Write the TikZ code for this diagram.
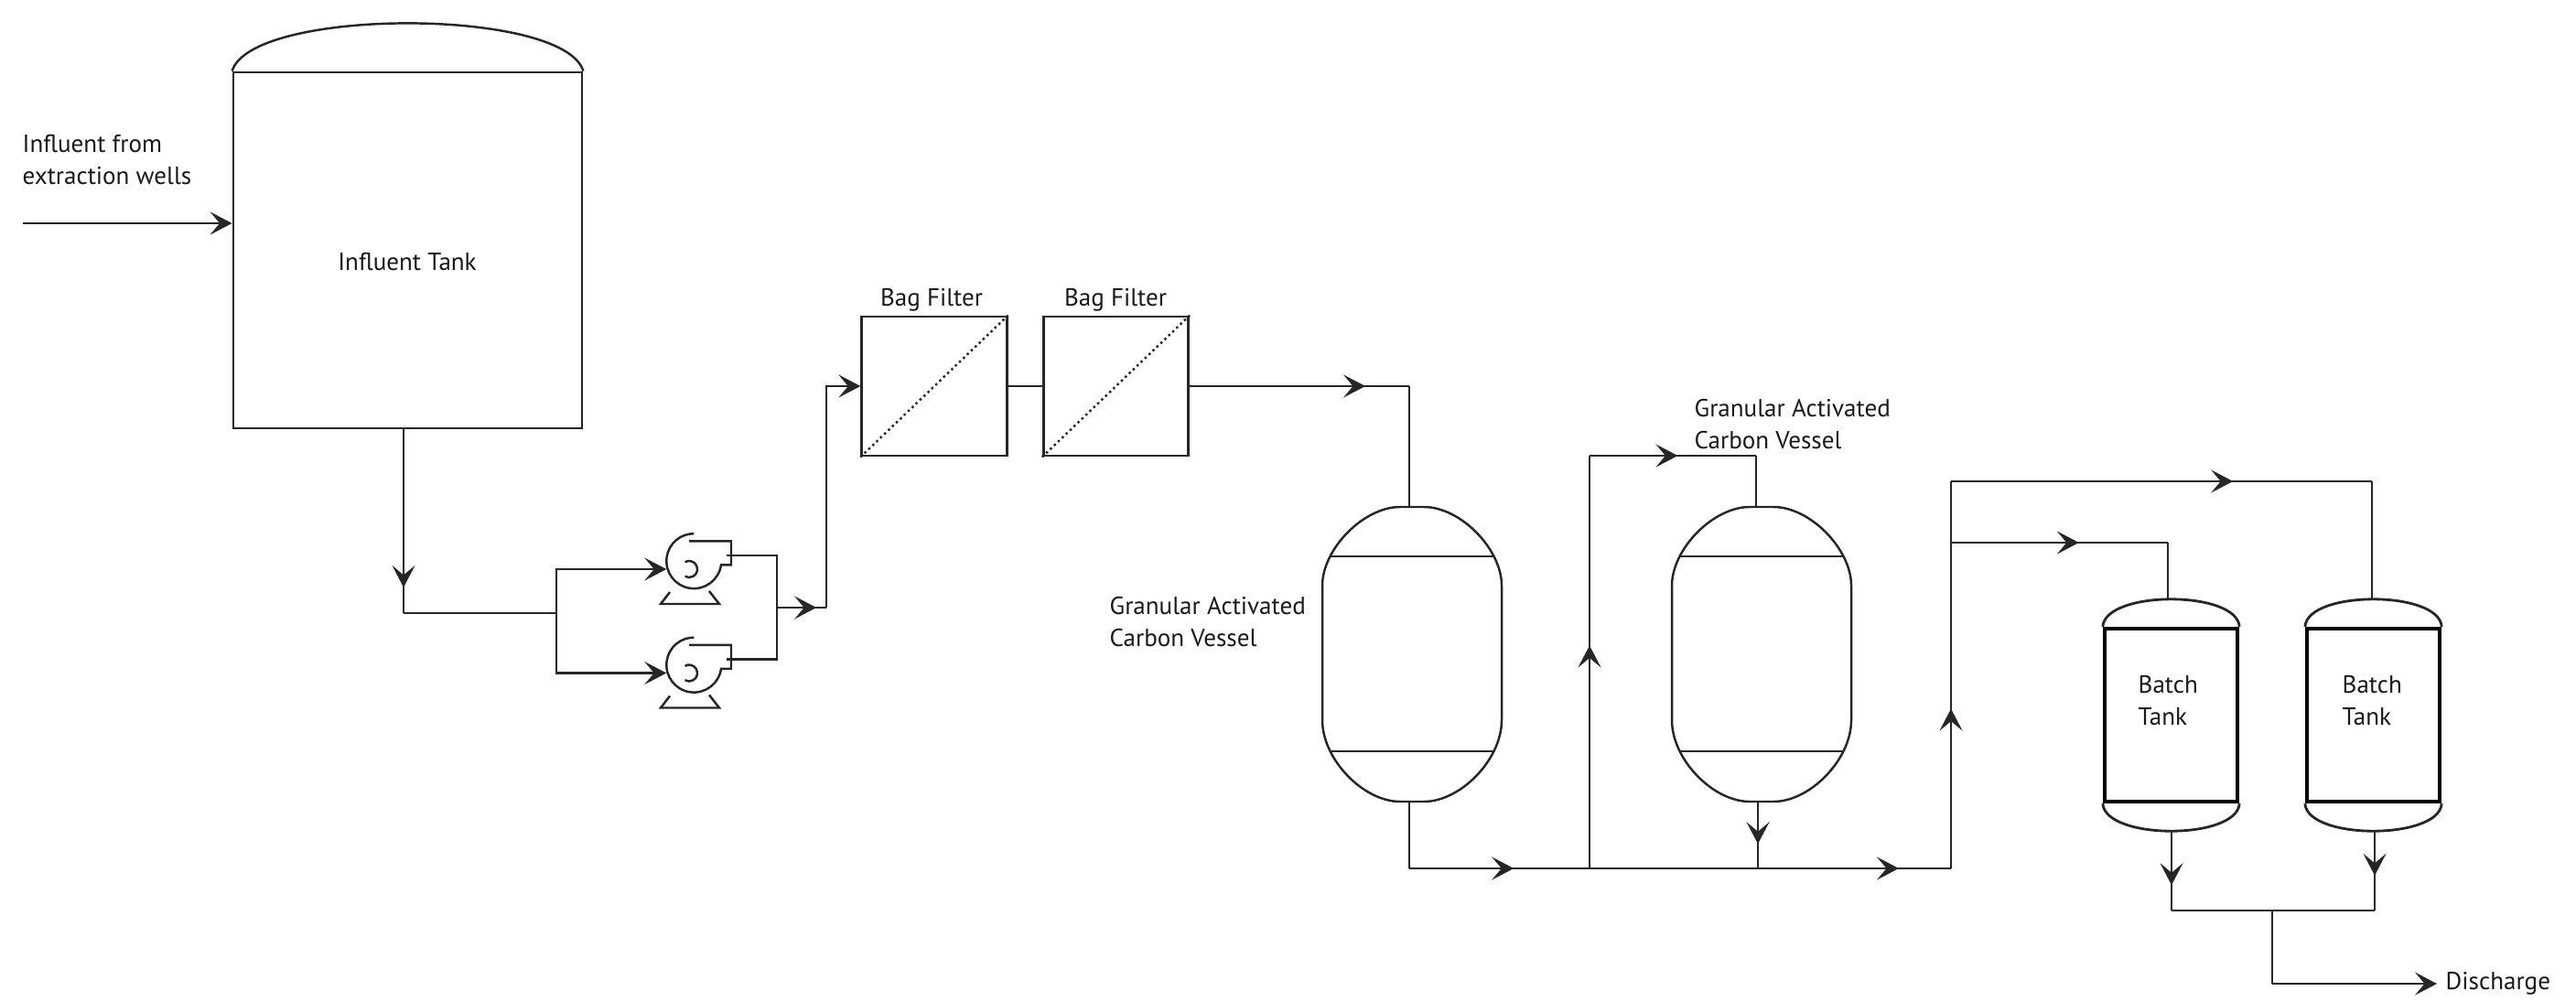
\documentclass[tikz,border=0pt]{standalone}
\usepackage{fontspec}
\setmainfont{PT Sans}
\usetikzlibrary{arrows.meta,calc,decorations.markings}
\tikzset{
  flowtip/.tip={Stealth[length=2.4mm,width=2.5mm,inset=1.05mm]},
  pipe/.style={line width=0.7pt,draw=black!85},
  flowat/.style={postaction={decorate},decoration={markings,mark=at position #1 with {\arrow{flowtip}}}},
  tag/.style={font=\fontsize{7.7}{9.95}\selectfont,inner sep=0pt,align=left,text=black!90},
  filterbox/.style={draw=black!85,line width=0.8pt,minimum width=1.585cm,minimum height=1.52cm,inner sep=0pt},
  vesselbody/.style={minimum width=1.96cm,minimum height=3.22cm,inner sep=0pt},
  batchbody/.style={draw=black,line width=1.25pt,minimum width=1.45cm,minimum height=1.89cm,inner sep=0pt},
  pumpbody/.style={circle,minimum size=0.6cm,inner sep=0pt}
}
\begin{document}
\begin{tikzpicture}
  \useasboundingbox (0,0) rectangle (28.15,-10.94);

  % influent tank
  \node[draw=black!85,line width=0.8pt,minimum width=3.81cm,minimum height=3.89cm,inner sep=0pt] (tank) at (4.455,-2.735) {};
  \draw[pipe] (tank.north west) .. controls (2.75,-0.08) and (6.16,-0.08) .. (tank.north east);
  \node[tag] (tanklabel) at (4.45,-2.86) {Influent Tank};
  \node[tag,anchor=west] (welllabel) at (0.24,-1.75) {Influent from\\extraction wells};
  \coordinate (wellin) at (0.25,-2.44);
  \draw[pipe,-{flowtip}] (wellin) -- (wellin -| tank.west);

  % pumps
  \foreach \pump/\py in {pumpA/-6.22,pumpB/-7.355} {
    \node[pumpbody] (\pump) at (7.53,\py) {};
    \draw[pipe] (\pump.north) -- ++(0.46,0) -- ++(0,-0.26) -- ++(-0.11,0) arc[start angle=-8,end angle=-270,radius=0.30];
    \draw[pipe] (\pump.center) ++(120:0.09) arc[start angle=120,end angle=-120,radius=0.09];
    \draw[pipe] ($(\pump)+(-0.21,-0.25)$) -- ($(\pump)+(-0.31,-0.38)$) -- ($(\pump)+(0.33,-0.38)$) -- ($(\pump)+(0.22,-0.24)$);
    \coordinate (\pump-out) at ($(\pump)+(0.41,0.15)$);
  }
  \coordinate (bendA) at (4.41,-6.70);
  \coordinate (split) at (6.08,-6.70);
  \coordinate (merge) at (8.49,-6.64);
  \coordinate (riser) at (9.03,-6.64);
  \draw[pipe,flowat=0.86] (bendA |- tank.south) -- (bendA);
  \draw[pipe] (bendA) -- (split);
  \draw[pipe,-{flowtip},shorten >=-0.6mm] (split) |- (pumpA.west);
  \draw[pipe,-{flowtip},shorten >=-0.6mm] (split) |- (pumpB.west);
  \draw[pipe] (pumpA-out) -| (merge);
  \draw[pipe] (pumpB-out) -| (merge);
  \draw[pipe,flowat=0.80] (merge) -- (riser);

  % bag filters
  \node[filterbox] (filterA) at (10.21,-4.22) {};
  \node[filterbox] (filterB) at (12.195,-4.22) {};
  \node[tag,anchor=base] (filterAlabel) at (10.18,-3.34) {Bag Filter};
  \node[tag,anchor=base] (filterBlabel) at (12.19,-3.34) {Bag Filter};
  \draw[pipe,densely dotted] (filterA.south west) -- (filterA.north east);
  \draw[pipe,densely dotted] (filterB.south west) -- (filterB.north east);
  \draw[pipe,-{flowtip}] (riser) |- (filterA.west);
  \draw[pipe] (filterA) -- (filterB);

  % carbon vessels
  \foreach \vessel/\vx in {vesselA/15.43,vesselB/19.25} {
    \node[vesselbody] (\vessel) at (\vx,-7.15) {};
    \begin{scope}[shift={(\vessel.center)}]
      \draw[pipe] (-0.13,1.61) .. controls (-0.53,1.61) and (-0.98,1.15) .. (-0.98,0.75) -- (-0.98,-0.72)
        .. controls (-0.98,-1.15) and (-0.53,-1.61) .. (-0.13,-1.61) -- (0.13,-1.61)
        .. controls (0.53,-1.61) and (0.98,-1.15) .. (0.98,-0.72) -- (0.98,0.75)
        .. controls (0.98,1.15) and (0.53,1.61) .. (0.13,1.61) -- cycle;
      \draw[pipe] (-0.89,1.07) -- (0.89,1.07);
      \draw[pipe] (-0.90,-1.06) -- (0.90,-1.06);
    \end{scope}
  }
  \node[tag,anchor=west] (vesselAlabel) at (12.12,-6.80) {Granular Activated\\Carbon Vessel};
  \node[tag,anchor=west] (vesselBlabel) at (18.51,-4.64) {Granular Activated\\Carbon Vessel};
  \coordinate (bendB) at (15.40,-4.22);
  \coordinate (bendC) at (15.40,-9.49);
  \coordinate (teeA) at (17.37,-9.49);
  \coordinate (teeB) at (19.21,-9.49);
  \coordinate (bendD) at (21.32,-9.49);
  \coordinate (bendE) at (17.37,-4.98);
  \coordinate (bendF) at (19.19,-4.98);
  \draw[pipe,flowat=0.80] (filterB.east |- bendB) -- (bendB);
  \draw[pipe] (bendB) -- (bendB |- vesselA.north);
  \draw[pipe] (bendC |- vesselA.south) -- (bendC);
  \draw[pipe,flowat=0.58] (bendC) -- (teeA);
  \draw[pipe] (teeA) -- (teeB);
  \draw[pipe,flowat=0.73] (teeB) -- (bendD);
  \draw[pipe,flowat=0.54] (teeA) -- (bendE);
  \draw[pipe,flowat=0.53] (bendE) -- (bendF);
  \draw[pipe] (bendF) -- (bendF |- vesselB.north);
  \draw[pipe,flowat=0.63] (teeB |- vesselB.south) -- (teeB);

  % batch tanks
  \foreach \batch/\bx in {batchA/23.725,batchB/25.935} {
    \node[batchbody] (\batch) at (\bx,-7.815) {};
    \draw[pipe,line width=0.8pt] (\batch.north west) .. controls ($(\batch.north west)+(0.03,0.40)$) and ($(\batch.north east)+(-0.03,0.40)$) .. (\batch.north east);
    \draw[pipe,line width=0.8pt] (\batch.south west) .. controls ($(\batch.south west)+(0.03,-0.40)$) and ($(\batch.south east)+(-0.03,-0.40)$) .. (\batch.south east);
    \coordinate (\batch-top) at ($(\batch.north)+(0,0.30)$);
    \coordinate (\batch-bottom) at ($(\batch.south)+(0,-0.30)$);
  }
  \node[tag,anchor=west] (batchAlabel) at (23.36,-7.66) {Batch\\Tank};
  \node[tag,anchor=west] (batchBlabel) at (25.59,-7.66) {Batch\\Tank};
  \coordinate (branch) at (21.32,-5.93);
  \coordinate (bendG) at (21.32,-5.26);
  \coordinate (bendH) at (23.69,-5.93);
  \coordinate (bendI) at (25.92,-5.26);
  \coordinate (dropA) at (23.73,-9.95);
  \coordinate (dropB) at (25.95,-9.95);
  \coordinate (stem) at (24.83,-9.95);
  \coordinate (outfall) at (24.83,-10.75);
  \draw[pipe,flowat=0.49] (bendD) -- (branch);
  \draw[pipe] (branch) -- (bendG);
  \draw[pipe,flowat=0.59] (branch) -- (bendH);
  \draw[pipe] (bendH) -- (bendH |- batchA-top);
  \draw[pipe,flowat=0.67] (bendG) -- (bendI);
  \draw[pipe] (bendI) -- (bendI |- batchB-top);
  \draw[pipe,flowat=0.68] (dropA |- batchA-bottom) -- (dropA);
  \draw[pipe,flowat=0.56] (dropB |- batchB-bottom) -- (dropB);
  \draw[pipe] (dropA) -- (dropB);
  \draw[pipe] (stem) -- (outfall);
  \node[tag,anchor=base west] (discharge) at (26.72,-10.81) {Discharge};
  \coordinate (outtip) at (26.63,-10.75);
  \draw[pipe,-{flowtip}] (outfall) -- (outtip);
\end{tikzpicture}
\end{document}
